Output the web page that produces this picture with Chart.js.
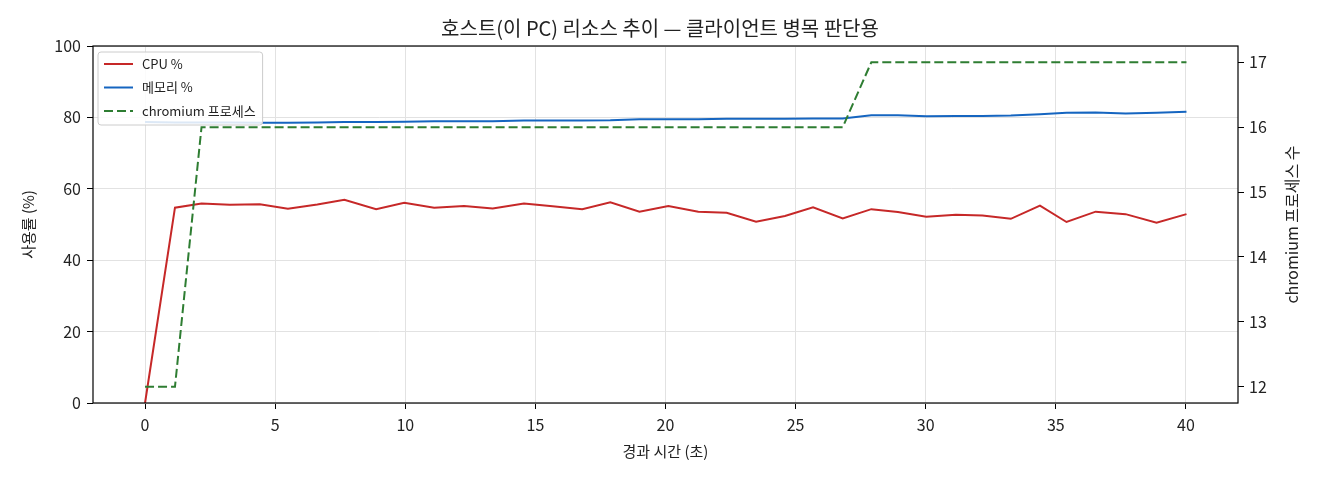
<!DOCTYPE html>
<html>
<head>
<meta charset="utf-8">
<script src="https://cdn.jsdelivr.net/npm/chart.js@4.4.1/dist/chart.umd.min.js"></script>
<style>
  html, body { margin: 0; background: #fff; }
</style>
</head>
<body>
<canvas id="chart" width="1320" height="480"></canvas>
<script>
// sample times (s) and readings
const times = [0, 1.15, 2.17, 3.26, 4.41, 5.49, 6.62, 7.66, 8.88, 9.96, 11.11, 12.26, 13.36,
  14.56, 15.66, 16.80, 17.88, 19.00, 20.11, 21.26, 22.35, 23.48, 24.59, 25.67, 26.81, 27.91,
  28.93, 30.02, 31.16, 32.18, 33.27, 34.39, 35.41, 36.53, 37.68, 38.87, 40.02];
const cpu = [0, 54.7, 55.9, 55.5, 55.7, 54.4, 55.6, 56.9, 54.3, 56.1, 54.7, 55.2, 54.5,
  55.9, 55.1, 54.3, 56.2, 53.6, 55.2, 53.6, 53.3, 50.8, 52.4, 54.8, 51.7, 54.3,
  53.5, 52.2, 52.7, 52.5, 51.6, 55.3, 50.7, 53.6, 52.9, 50.5, 52.9];
const mem = [78.7, 78.6, 78.6, 78.6, 78.5, 78.5, 78.6, 78.7, 78.7, 78.8, 78.9, 78.9, 78.9,
  79.1, 79.1, 79.1, 79.2, 79.5, 79.5, 79.5, 79.6, 79.6, 79.6, 79.7, 79.7, 80.6,
  80.6, 80.3, 80.4, 80.4, 80.5, 80.9, 81.3, 81.4, 81.1, 81.3, 81.6];
const procs = [12, 12, 16, 16, 16, 16, 16, 16, 16, 16, 16, 16, 16,
  16, 16, 16, 16, 16, 16, 16, 16, 16, 16, 16, 16, 17,
  17, 17, 17, 17, 17, 17, 17, 17, 17, 17, 17];

const xTicks = [0, 5, 10, 15, 20, 25, 30, 35, 40];
const pctTicks = [0, 20, 40, 60, 80, 100];
const procTicks = [12, 13, 14, 15, 16, 17];

const FONT = "'Noto Sans CJK KR', 'Noto Sans', sans-serif";
const TEXT = '#222';
const GRID = '#e2e2e2';

const pts = arr => arr.map((v, i) => ({ x: times[i], y: v }));
const setTicks = list => scale => { scale.ticks = list.map(v => ({ value: v })); };

const series = [
  { label: 'CPU %', data: cpu, color: '#c62828', dash: [], axis: 'y' },
  { label: '메모리 %', data: mem, color: '#1565c0', dash: [], axis: 'y' },
  { label: 'chromium 프로세스', data: procs, color: '#2e7d32', dash: [9, 4], axis: 'y2' }
];

// box around the plot, right axis title, legend in the upper left
const framePlugin = {
  id: 'frame',
  afterDatasetsDraw(chart) {
    const ctx = chart.ctx;
    const ca = chart.chartArea;
    ctx.save();
    ctx.strokeStyle = '#000';
    ctx.lineWidth = 1.2;
    ctx.strokeRect(ca.left, ca.top, ca.right - ca.left, ca.bottom - ca.top);

    ctx.fillStyle = TEXT;
    ctx.font = '16px ' + FONT;
    ctx.textAlign = 'center';
    ctx.textBaseline = 'middle';
    ctx.translate(ca.right + 54, (ca.top + ca.bottom) / 2);
    ctx.rotate(-Math.PI / 2);
    ctx.fillText('chromium 프로세스 수', 0, 0);
    ctx.restore();

    ctx.save();
    ctx.font = '13px ' + FONT;
    const x0 = ca.left + 5, y0 = ca.top + 6;
    const textW = Math.max(...series.map(s => ctx.measureText(s.label).width));
    const w = 44 + textW + 7, h = 73;
    ctx.beginPath();
    ctx.roundRect(x0, y0, w, h, 3);
    ctx.fillStyle = 'rgba(255,255,255,0.85)';
    ctx.fill();
    ctx.strokeStyle = '#cccccc';
    ctx.lineWidth = 1;
    ctx.stroke();
    series.forEach((s, i) => {
      const y = y0 + 12 + i * 23.5;
      ctx.beginPath();
      ctx.setLineDash(s.dash);
      ctx.strokeStyle = s.color;
      ctx.lineWidth = 2;
      ctx.moveTo(x0 + 6, y);
      ctx.lineTo(x0 + 35, y);
      ctx.stroke();
      ctx.setLineDash([]);
      ctx.fillStyle = TEXT;
      ctx.textAlign = 'left';
      ctx.textBaseline = 'middle';
      ctx.fillText(s.label, x0 + 44, y);
    });
    ctx.restore();
  }
};

new Chart(document.getElementById('chart'), {
  type: 'line',
  data: {
    datasets: series.map((s, i) => ({
      label: s.label,
      data: pts(s.data),
      borderColor: s.color,
      borderWidth: 2,
      borderDash: s.dash,
      pointRadius: 0,
      tension: 0,
      fill: false,
      yAxisID: s.axis,
      order: series.length - i
    }))
  },
  options: {
    responsive: false,
    animation: false,
    layout: { padding: 0 },
    plugins: {
      legend: { display: false },
      tooltip: { enabled: false },
      title: {
        display: true,
        text: '호스트(이 PC) 리소스 추이 — 클라이언트 병목 판단용',
        color: TEXT,
        font: { family: FONT, size: 20, weight: 'normal' },
        padding: { top: 16, bottom: 6 }
      }
    },
    scales: {
      x: {
        type: 'linear',
        min: -2,
        max: 42,
        afterBuildTicks: setTicks(xTicks),
        afterFit: s => { s.height = 77; },
        grid: { color: GRID, tickColor: '#000', tickLength: 6, lineWidth: 1 },
        border: { display: false },
        ticks: { color: TEXT, padding: 6, font: { family: FONT, size: 16 } },
        title: {
          display: true,
          text: '경과 시간 (초)',
          color: TEXT,
          font: { family: FONT, size: 15 },
          padding: { top: 0, bottom: 20 }
        }
      },
      y: {
        position: 'left',
        min: 0,
        max: 100,
        afterBuildTicks: setTicks(pctTicks),
        afterFit: s => { s.width = 93; },
        grid: { color: GRID, tickColor: '#000', tickLength: 6, lineWidth: 1 },
        border: { display: false },
        ticks: { color: TEXT, padding: 6, font: { family: FONT, size: 16 } },
        title: {
          display: true,
          text: '사용률 (%)',
          color: TEXT,
          font: { family: FONT, size: 15 },
          padding: { top: 19, bottom: 0 }
        }
      },
      y2: {
        position: 'right',
        min: 11.75,
        max: 17.25,
        afterBuildTicks: setTicks(procTicks),
        afterFit: s => { s.width = 82; },
        grid: { drawOnChartArea: false, tickColor: '#000', tickLength: 6 },
        border: { display: false },
        ticks: { color: TEXT, padding: 5, font: { family: FONT, size: 16 } }
      }
    }
  },
  plugins: [framePlugin]
});
</script>
</body>
</html>
